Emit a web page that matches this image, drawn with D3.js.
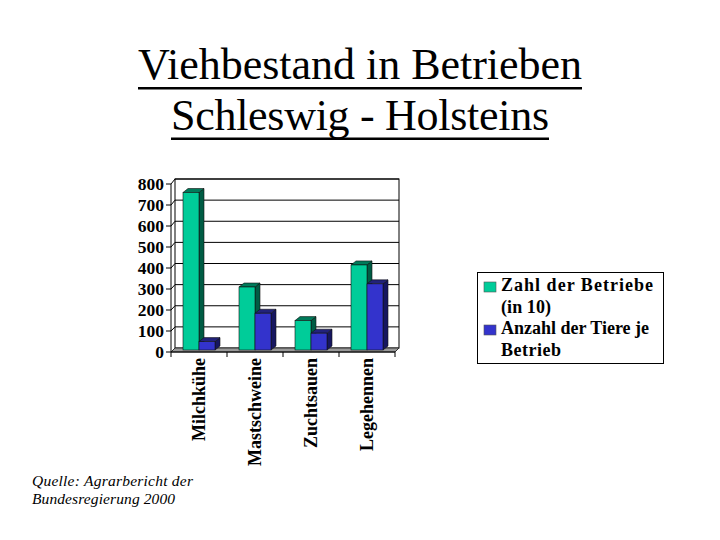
<!DOCTYPE html>
<html><head><meta charset="utf-8">
<script src="https://cdn.jsdelivr.net/npm/d3@7"></script>
<style>body{margin:0;background:#fff}svg{display:block}</style>
</head><body>
<svg id="c" width="720" height="540"></svg>
<script>
const titleLines = ["Viehbestand in Betrieben", "Schleswig - Holsteins"];
const categories = ["Milchkühe", "Mastschweine", "Zuchtsauen", "Legehennen"];
const seriesNames = ["Zahl der Betriebe (in 10)", "Anzahl der Tiere je Betrieb"];
const betriebe = [750, 300, 140, 405];
const tiere = [40, 175, 80, 315];
const yTicks = [0, 100, 200, 300, 400, 500, 600, 700, 800];
const legendLines = [["Zahl der Betriebe", "(in 10)"], ["Anzahl der Tiere je", "Betrieb"]];
const sourceLines = ["Quelle: Agrarbericht der", "Bundesregierung 2000"];

const svg = d3.select("#c");
const serif = "'Liberation Serif','Times New Roman',serif";
const colors = {front: ["#00cc99", "#3333cc"], top: ["#007a5a", "#22227a"], side: ["#005c44", "#161660"]};
const DX = 5, DY = 4;

// scales
const x0 = d3.scaleBand().domain(categories).range([171, 395]).padding(0);
const x1 = d3.scaleBand().domain([0, 1]).range([0, x0.bandwidth()]).paddingInner(0).paddingOuter(0.75);
const yBar = d3.scaleLinear().domain([0, 800]).range([350, 182]);
const yAxisS = d3.scaleLinear().domain([0, 800]).range([352, 184]);
const yBack = d3.scaleLinear().domain([0, 800]).range([348, 179]);

// Title
const titleLens = [444, 378];
titleLines.forEach((t, i) => {
  svg.append("text").attr("x", 360).attr("y", 79 + i * 50.5)
    .attr("text-anchor", "middle").attr("font-family", serif).attr("font-size", 44).attr("fill", "#000")
    .attr("textLength", titleLens[i]).attr("lengthAdjust", "spacing").text(t);
  const w = titleLens[i];
  svg.append("rect").attr("x", 360 - w / 2).attr("y", 87 + i * 50.5).attr("width", w).attr("height", 2.5).attr("fill", "#000");
});

// back wall
const bx0 = 171 + 4, bx1 = 395 + 4;
svg.append("rect").attr("x", bx0).attr("y", yBack(800)).attr("width", bx1 - bx0).attr("height", yBack(0) - yBack(800))
  .attr("fill", "#fff").attr("stroke", "#000").attr("stroke-width", 1);
// gridlines
svg.selectAll(".grid").data(yTicks.filter(v => v > 0)).join("line")
  .attr("x1", bx0).attr("x2", bx1).attr("y1", d => yBack(d)).attr("y2", d => yBack(d))
  .attr("stroke", "#000").attr("stroke-width", 1);
svg.selectAll(".lgrid").data(yTicks).join("line")
  .attr("x1", 171).attr("x2", bx0).attr("y1", d => yAxisS(d)).attr("y2", d => yBack(d))
  .attr("stroke", "#000").attr("stroke-width", 1);

// floor
svg.append("polygon")
  .attr("points", [[171, yAxisS(0)], [395, yAxisS(0)], [bx1, yBack(0)], [bx0, yBack(0)]].map(p => p.join(",")).join(" "))
  .attr("fill", "#999").attr("stroke", "#333").attr("stroke-width", 1);

// axis
svg.append("line").attr("x1", 171).attr("x2", 171).attr("y1", yAxisS(0)).attr("y2", yAxisS(800)).attr("stroke", "#000");
svg.selectAll(".yt").data(yTicks).join("line")
  .attr("x1", 166).attr("x2", 171).attr("y1", d => yAxisS(d)).attr("y2", d => yAxisS(d)).attr("stroke", "#000");
svg.selectAll(".yl").data(yTicks).join("text")
  .attr("x", 164).attr("y", d => yAxisS(d)).attr("dy", "0.35em").attr("text-anchor", "end")
  .attr("font-family", serif).attr("font-weight", "bold").attr("font-size", 17.5).text(d => d);
svg.append("line").attr("x1", 171).attr("x2", 395).attr("y1", yAxisS(0)).attr("y2", yAxisS(0)).attr("stroke", "#000");
const xTickPos = [171].concat(categories.map(c => x0(c) + x0.bandwidth()));
svg.selectAll(".xt").data(xTickPos).join("line")
  .attr("x1", d => d).attr("x2", d => d).attr("y1", yAxisS(0)).attr("y2", yAxisS(0) + 5).attr("stroke", "#000");

// bars
const data = [betriebe, tiere];
categories.forEach((c, ci) => {
  [0, 1].forEach(si => {
    const v = data[si][ci];
    const xl = x0(c) + x1(si), w = x1.bandwidth();
    const yt = yBar(v), yb = yBar(0);
    const g = svg.append("g");
    g.append("polygon").attr("points", [[xl + w, yt], [xl + w + DX, yt - DY], [xl + w + DX, yb - DY], [xl + w, yb]].map(p => p.join(",")).join(" "))
      .attr("fill", colors.side[si]).attr("stroke", "#111").attr("stroke-width", 0.6);
    g.append("polygon").attr("points", [[xl, yt], [xl + DX, yt - DY], [xl + w + DX, yt - DY], [xl + w, yt]].map(p => p.join(",")).join(" "))
      .attr("fill", colors.top[si]).attr("stroke", "#111").attr("stroke-width", 0.6);
    g.append("rect").attr("x", xl).attr("y", yt).attr("width", w).attr("height", yb - yt)
      .attr("fill", colors.front[si]).attr("stroke", "#111").attr("stroke-width", 0.6);
  });
});

// category labels
categories.forEach(c => {
  svg.append("text").attr("transform", `translate(${x0(c) + x0.bandwidth() / 2},358) rotate(-90)`)
    .attr("dy", "0.35em").attr("text-anchor", "end")
    .attr("font-family", serif).attr("font-weight", "bold").attr("font-size", 18).text(c);
});

// legend
svg.append("rect").attr("x", 477.5).attr("y", 272.5).attr("width", 186).attr("height", 91)
  .attr("fill", "#fff").attr("stroke", "#000").attr("stroke-width", 1);
const legLens = [[152, 50], [148, 60]];
legendLines.forEach((lines, si) => {
  const base = 291 + si * 43;
  svg.append("rect").attr("x", 484).attr("y", base - 9).attr("width", 12).attr("height", 10)
    .attr("fill", colors.front[si]).attr("stroke", "#555").attr("stroke-width", 0.6);
  lines.forEach((t, li) => {
    svg.append("text").attr("x", 501).attr("y", base + li * 21.5)
      .attr("font-family", serif).attr("font-weight", "bold").attr("font-size", 18)
      .attr("textLength", legLens[si][li]).attr("lengthAdjust", "spacing").text(t);
  });
});

// source
const srcLens = [161, 143];
sourceLines.forEach((t, i) => {
  svg.append("text").attr("x", 32).attr("y", 486 + i * 17.5)
    .attr("font-family", serif).attr("font-style", "italic").attr("font-size", 15.5)
    .attr("textLength", srcLens[i]).attr("lengthAdjust", "spacing").text(t);
});
</script>
</body></html>
